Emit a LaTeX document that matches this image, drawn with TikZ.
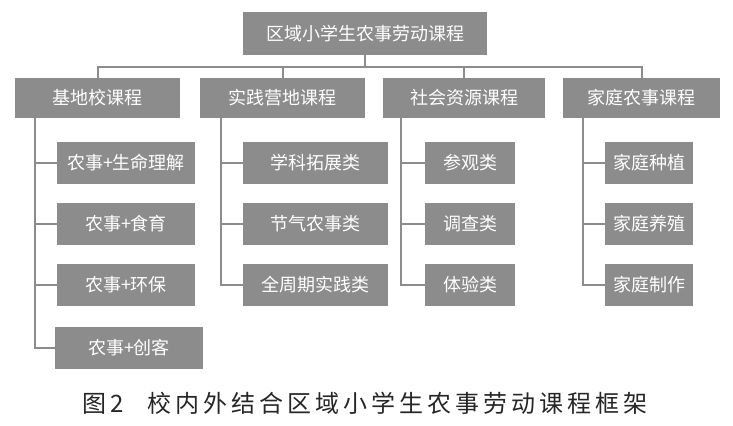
\documentclass[tikz,border=0pt]{standalone}
\usepackage{fontspec}
\newfontfamily\cjk{Noto Sans CJK SC}
\definecolor{boxgray}{HTML}{8C8C8C}
\begin{document}
\begin{tikzpicture}[
        x=0.5pt,
        y=-0.5pt,
        font=\cjk\fontsize{9}{10}\selectfont
    ]
    \tikzset{
        rootbox/.style = {rectangle, fill=boxgray, text=white, minimum width=122pt, minimum height=21.5pt, inner sep=0pt},
        topbox/.style = {rectangle, fill=boxgray, text=white, minimum height=20pt, inner sep=0pt},
        leafbox/.style = {rectangle, fill=boxgray, text=white, minimum height=21pt, inner sep=0pt},
        link/.style = {draw=boxgray, line width=1pt},
    }
    \useasboundingbox (0,0) rectangle (733,425);
    \node[rootbox] at (365,33.5) (root) {区域小学生农事劳动课程};
    %
    \node[topbox, minimum width=82.5pt] at (97.5,98) (base) {基地校课程};
    \node[topbox, minimum width=82.5pt] at (282.5,98) (camp) {实践营地课程};
    \node[topbox, minimum width=81pt] at (464,98) (soc) {社会资源课程};
    \node[topbox, minimum width=78.5pt] at (641.5,98) (home) {家庭农事课程};
    %
    \node[leafbox, minimum width=69pt] at (126,163) (a1) {农事+生命理解};
    \node[leafbox, minimum width=69pt] at (126,223.5) (a2) {农事+食育};
    \node[leafbox, minimum width=69pt] at (126,285) (a3) {农事+环保};
    \node[leafbox, minimum width=74pt] at (129,347.5) (a4) {农事+创客};
    \node[leafbox, minimum width=72.5pt] at (315.5,163) (b1) {学科拓展类};
    \node[leafbox, minimum width=72.5pt] at (315.5,223.5) (b2) {节气农事类};
    \node[leafbox, minimum width=72.5pt] at (315.5,285) (b3) {全周期实践类};
    \node[leafbox, minimum width=45pt] at (470,163) (c1) {参观类};
    \node[leafbox, minimum width=45pt] at (470,223.5) (c2) {调查类};
    \node[leafbox, minimum width=45pt] at (470,285) (c3) {体验类};
    \node[leafbox, minimum width=44pt] at (649,163) (d1) {家庭种植};
    \node[leafbox, minimum width=44pt] at (649,223.5) (d2) {家庭养殖};
    \node[leafbox, minimum width=44pt] at (649,285) (d3) {家庭制作};
    %
    \coordinate (busl) at (97.5,67);
    \coordinate (busr) at (641.5,67);
    \draw[link] (root.south) -- (365,67);
    \draw[link] (base.north) -- (busl) -- (busr) -- (home.north);
    \draw[link] (camp.north) -- (camp.north |- busl);
    \draw[link] (soc.north) -- (soc.north |- busl);
    %
    \draw[link] (base.south -| 35,0) |- (a4.west);
    \foreach \n in {a1,a2,a3} \draw[link] (35,0 |- \n.west) -- (\n.west);
    \draw[link] (camp.south -| 221,0) |- (b3.west);
    \foreach \n in {b1,b2} \draw[link] (221,0 |- \n.west) -- (\n.west);
    \draw[link] (soc.south -| 401,0) |- (c3.west);
    \foreach \n in {c1,c2} \draw[link] (401,0 |- \n.west) -- (\n.west);
    \draw[link] (home.south -| 583,0) |- (d3.west);
    \foreach \n in {d1,d2} \draw[link] (583,0 |- \n.west) -- (\n.west);
    %
    \node[font=\cjk\fontsize{12}{13}\selectfont, text=black!85] at (365,403) (cap) {图\,2\quad 校\,内\,外\,结\,合\,区\,域\,小\,学\,生\,农\,事\,劳\,动\,课\,程\,框\,架};
\end{tikzpicture}
\end{document}
